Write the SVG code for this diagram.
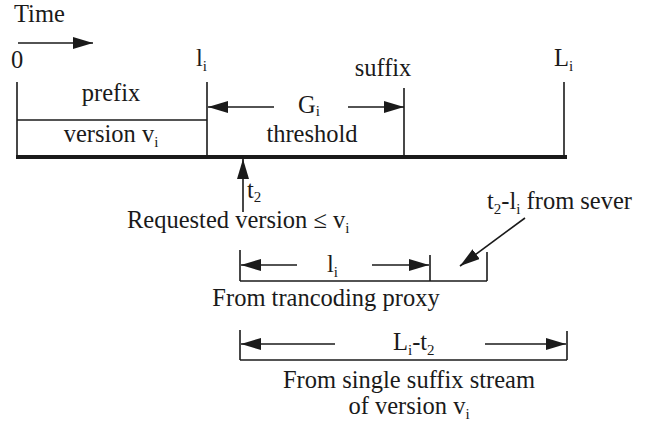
<svg xmlns="http://www.w3.org/2000/svg" width="662" height="425" viewBox="0 0 662 425">
  <style>
    text { font-family: "Liberation Serif", "Times New Roman", serif; font-size: 24.5px; fill: #1a1a1a; }
    .sub { font-size: 15px; }
    .ln { stroke: #1a1a1a; stroke-width: 1.6; fill: none; }
    .thick { stroke: #1a1a1a; stroke-width: 4; fill: none; }
    .mid { text-anchor: middle; }
  </style>
  <defs>
    <marker id="ah" viewBox="0 0 20 12" refX="20" refY="6" markerWidth="20" markerHeight="12" markerUnits="userSpaceOnUse" orient="auto">
      <path d="M0,0 L20,6 L0,12 Z" fill="#1a1a1a"/>
    </marker>
  </defs>
  <rect width="662" height="425" fill="#ffffff"/>

  <!-- time axis header -->
  <g id="time">
    <text x="14" y="22">Time</text>
    <line class="ln" x1="18" y1="43" x2="93" y2="43" marker-end="url(#ah)"/>
  </g>

  <!-- tick labels -->
  <g id="ticks">
    <text x="11" y="68">0</text>
    <text x="196" y="66">l<tspan class="sub" dy="5">i</tspan></text>
    <text x="554" y="66">L<tspan class="sub" dy="5">i</tspan></text>
    <text x="383" y="76" class="mid">suffix</text>
  </g>

  <!-- prefix block -->
  <g id="prefix">
    <line class="ln" x1="17" y1="82" x2="17" y2="157"/>
    <line class="ln" x1="207" y1="82" x2="207" y2="157"/>
    <line class="ln" x1="17" y1="120" x2="207" y2="120"/>
    <text x="111" y="101" class="mid">prefix</text>
    <text x="111" y="142" class="mid">version v<tspan class="sub" dy="5">i</tspan></text>
  </g>

  <!-- threshold span -->
  <g id="threshold">
    <line class="ln" x1="404" y1="88" x2="404" y2="157"/>
    <line class="ln" x1="274" y1="107" x2="208" y2="107" marker-end="url(#ah)"/>
    <line class="ln" x1="348" y1="107" x2="404" y2="107" marker-end="url(#ah)"/>
    <text x="298" y="113">G<tspan class="sub" dy="3">i</tspan></text>
    <text x="312" y="142" class="mid">threshold</text>
  </g>

  <!-- end of stream -->
  <g id="end">
    <line class="ln" x1="564" y1="82" x2="564" y2="157"/>
  </g>

  <!-- main timeline -->
  <g id="timeline">
    <line class="thick" x1="16" y1="157" x2="567" y2="157"/>
  </g>

  <!-- request point -->
  <g id="request">
    <line class="ln" x1="243" y1="212" x2="243" y2="159" marker-end="url(#ah)"/>
    <text x="247" y="198">t<tspan class="sub" dy="4">2</tspan></text>
    <text x="127" y="228">Requested version ≤ v<tspan class="sub" dy="5">i</tspan></text>
  </g>

  <!-- transcoding proxy span -->
  <g id="proxy">
    <line class="ln" x1="240" y1="250" x2="240" y2="281"/>
    <line class="ln" x1="430" y1="255" x2="430" y2="281"/>
    <line class="ln" x1="487" y1="252" x2="487" y2="281"/>
    <line class="ln" x1="240" y1="281" x2="487" y2="281"/>
    <line class="ln" x1="297" y1="265" x2="241" y2="265" marker-end="url(#ah)"/>
    <line class="ln" x1="372" y1="265" x2="429" y2="265" marker-end="url(#ah)"/>
    <text x="327" y="272">l<tspan class="sub" dy="5">i</tspan></text>
    <text x="326" y="306" class="mid">From trancoding proxy</text>
  </g>

  <!-- server part -->
  <g id="server">
    <text x="487" y="209">t<tspan class="sub" dy="5">2</tspan><tspan dy="-5">-l</tspan><tspan class="sub" dy="5">i</tspan><tspan dy="-5"> from sever</tspan></text>
    <line class="ln" x1="525" y1="218" x2="460" y2="266" marker-end="url(#ah)"/>
  </g>

  <!-- suffix stream span -->
  <g id="suffix-stream">
    <line class="ln" x1="240" y1="330" x2="240" y2="360"/>
    <line class="ln" x1="567" y1="331" x2="567" y2="360"/>
    <line class="ln" x1="240" y1="360" x2="567" y2="360"/>
    <line class="ln" x1="335" y1="344" x2="241" y2="344" marker-end="url(#ah)"/>
    <line class="ln" x1="485" y1="344" x2="566" y2="344" marker-end="url(#ah)"/>
    <text x="393" y="350">L<tspan class="sub" dy="5">i</tspan><tspan dy="-5">-t</tspan><tspan class="sub" dy="5">2</tspan></text>
    <text x="409" y="388" class="mid">From single suffix stream</text>
    <text x="409" y="414" class="mid">of version v<tspan class="sub" dy="5">i</tspan></text>
  </g>
</svg>
